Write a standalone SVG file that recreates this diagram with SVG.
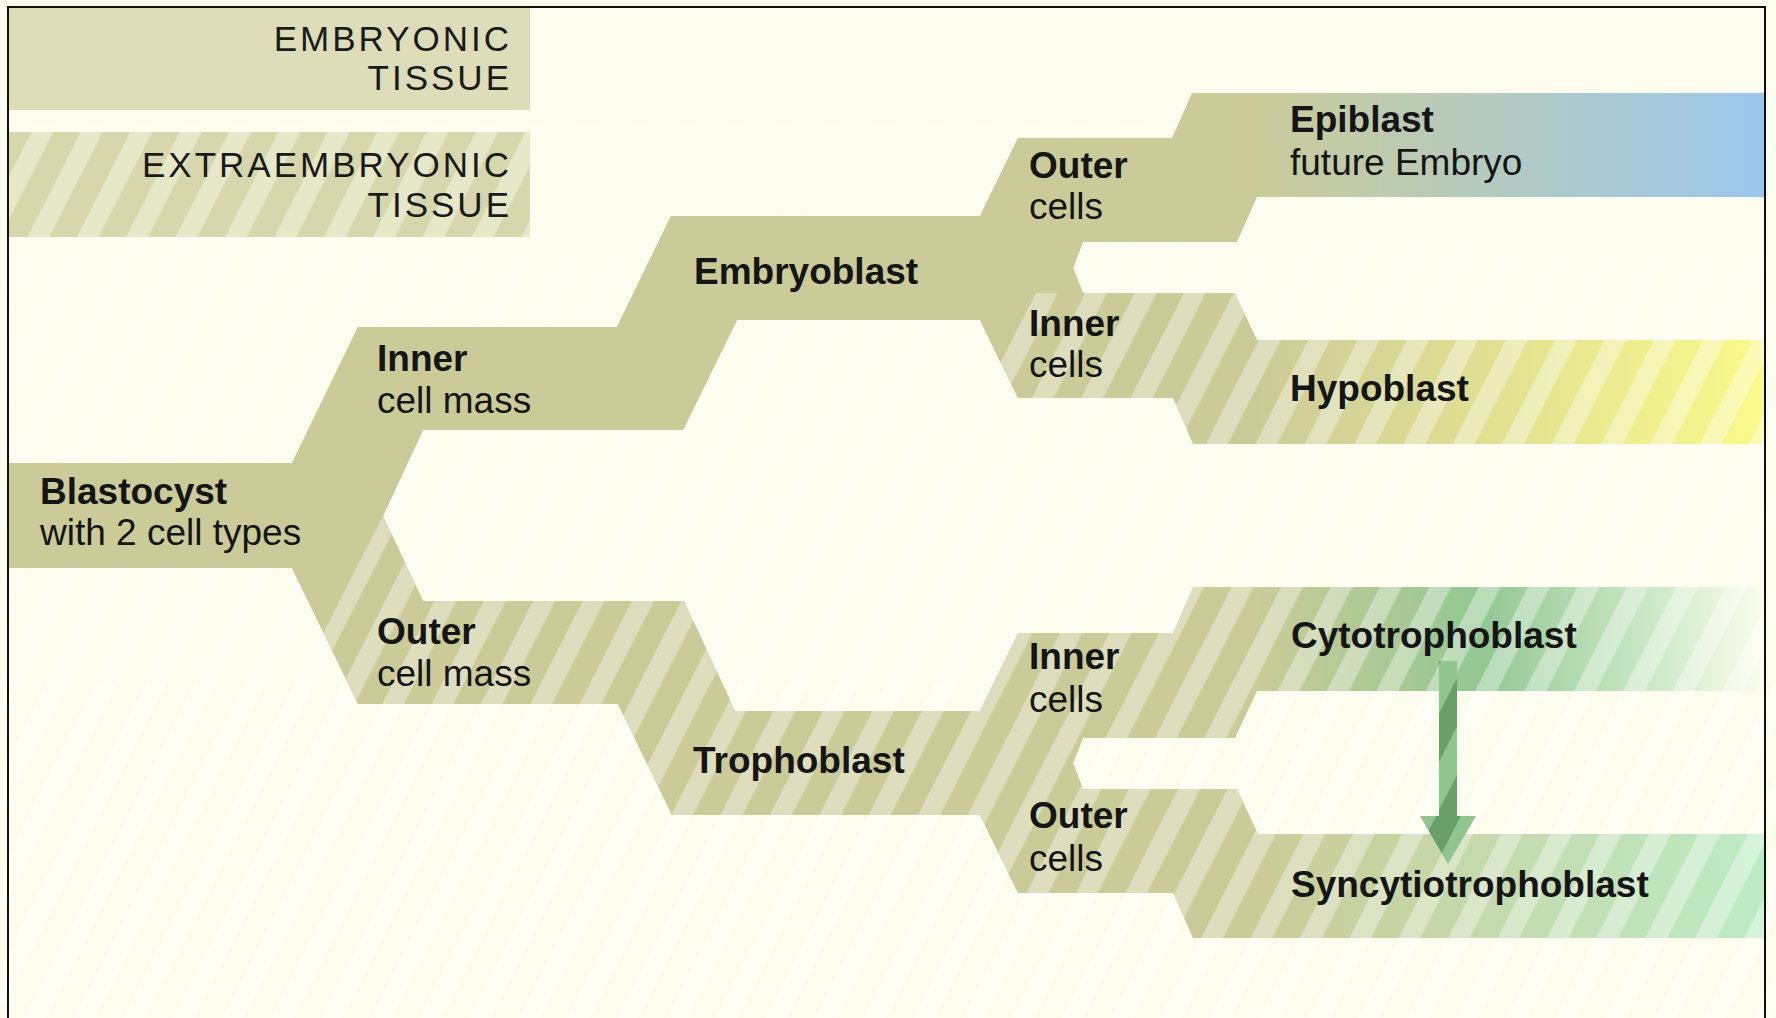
<svg xmlns="http://www.w3.org/2000/svg" width="1776" height="1018" viewBox="0 0 1776 1018">
<defs>
<style>
.t{font-family:"Liberation Sans",Arial,Helvetica,sans-serif;font-size:37px;fill:#151515}
.b{font-weight:bold}
.lg{font-family:"Liberation Sans",Arial,Helvetica,sans-serif;font-size:35px;letter-spacing:3px;fill:#1a1a1a;text-anchor:end}
.solid{fill:#CBCB99}
.striped{fill:url(#stripes)}
.wst{fill:url(#wstripes)}
</style>
<pattern id="stripes" patternUnits="userSpaceOnUse" width="44" height="44" patternTransform="rotate(27)">
<rect width="44" height="44" fill="#CBCB99"/>
<rect width="19.5" height="44" fill="#DEDEBE"/>
</pattern>
<pattern id="wstripes" patternUnits="userSpaceOnUse" width="44" height="44" patternTransform="rotate(27)">
<rect width="19.5" height="44" fill="#ffffff" fill-opacity="0.36"/>
</pattern>
<pattern id="bgstripes" patternUnits="userSpaceOnUse" width="44" height="44" patternTransform="rotate(27)">
<rect width="19.5" height="44" fill="#ffffff" fill-opacity="0.5"/>
</pattern>
<pattern id="legstripes" patternUnits="userSpaceOnUse" width="44" height="44" patternTransform="rotate(27)">
<rect width="44" height="44" fill="#D7D7AE"/>
<rect width="19.5" height="44" fill="#E7E7CA"/>
</pattern>
<pattern id="gstripes" patternUnits="userSpaceOnUse" width="44" height="44" patternTransform="rotate(27)">
<rect width="44" height="44" fill="#6A9F6C"/>
<rect width="22" height="44" fill="#90C490"/>
</pattern>
<linearGradient id="bgFade" gradientUnits="userSpaceOnUse" x1="0" y1="0" x2="0" y2="1018">
<stop offset="0" stop-color="#fff" stop-opacity="0"/>
<stop offset="0.25" stop-color="#fff" stop-opacity="0.25"/>
<stop offset="0.7" stop-color="#fff" stop-opacity="0.7"/>
<stop offset="1" stop-color="#fff" stop-opacity="0.8"/>
</linearGradient>
<mask id="bgMask" maskUnits="userSpaceOnUse" x="0" y="0" width="1776" height="1018">
<rect width="1776" height="1018" fill="url(#bgFade)"/>
</mask>
<linearGradient id="gEpi" gradientUnits="userSpaceOnUse" x1="1250" y1="0" x2="1766" y2="0">
<stop offset="0" stop-color="#CBCB99"/>
<stop offset="1" stop-color="#9BC7EC"/>
</linearGradient>
<linearGradient id="gHypo" gradientUnits="userSpaceOnUse" x1="1257" y1="0" x2="1766" y2="0">
<stop offset="0" stop-color="#CBCB99"/>
<stop offset="1" stop-color="#FAFA8C"/>
</linearGradient>
<linearGradient id="gCyto" gradientUnits="userSpaceOnUse" x1="1250" y1="0" x2="1766" y2="0">
<stop offset="0" stop-color="#CBCB99"/>
<stop offset="0.45" stop-color="#94C794"/>
<stop offset="0.78" stop-color="#CDE8C8"/>
<stop offset="1" stop-color="#FDFDEF"/>
</linearGradient>
<linearGradient id="gSyn" gradientUnits="userSpaceOnUse" x1="1260" y1="0" x2="1766" y2="0">
<stop offset="0" stop-color="#CBCB99"/>
<stop offset="1" stop-color="#BDEBC6"/>
</linearGradient>
</defs>

<g id="background">
<rect width="1776" height="1018" fill="#FDFDEF"/>
<rect width="1776" height="1018" fill="url(#bgstripes)" mask="url(#bgMask)"/>
</g>

<g id="legend">
<g id="legend-embryonic">
<rect x="9" y="7" width="521" height="103" fill="#DDDDBA"/>
<text class="lg" x="512" y="51">EMBRYONIC</text>
<text class="lg" x="512" y="90">TISSUE</text>
</g>
<g id="legend-extraembryonic">
<rect x="9" y="132" width="521" height="105" fill="url(#legstripes)"/>
<text class="lg" x="512" y="177">EXTRAEMBRYONIC</text>
<text class="lg" x="512" y="217">TISSUE</text>
</g>
</g>

<g id="band-silhouette">
<path class="solid" d="M9,463 L292,463 L358,327 L617,327 L671,216 L980,216 L1018,138 L1172,138 L1237,242 L1083,242 L1073,268 L1083,293 L1235,293 L1173,398 L1018,398 L980,320 L737,320 L683,430 L423,430 L383,516 L423,601 L684,601 L735,711 L980,711 L1018,633 L1173,633 L1235,738 L1083,738 L1073,763 L1083,789 L1237,789 L1173,893 L1018,893 L980,815 L672,815 L618,704 L358,704 L292,568 L9,568 Z"/>
</g>

<g id="node-blastocyst">
<polygon class="solid" points="9,463 292,463 383,516 323.5,632.8 292,568 9,568"/>
<text class="t b" x="40" y="504">Blastocyst</text>
<text class="t" x="40" y="545">with 2 cell types</text>
</g>

<g id="node-inner-cell-mass">
<polygon class="solid" points="292,463 358,327 617,327 683,430 423,430 383,516"/>
<text class="t b" x="377" y="371">Inner</text>
<text class="t" x="377" y="413">cell mass</text>
</g>

<g id="node-outer-cell-mass">
<polygon class="striped" points="383,516 423,601 684,601 618,704 358,704 323.5,632.8"/>
<text class="t b" x="377" y="644">Outer</text>
<text class="t" x="377" y="686">cell mass</text>
</g>

<g id="node-embryoblast">
<polygon class="solid" points="617,327 671,216 980,216 1073,268 1083,293 1033,293 999.2,359.4 980,320 737,320 683,430"/>
<text class="t b" x="694" y="284">Embryoblast</text>
</g>

<g id="node-trophoblast">
<polygon class="striped" points="684,601 735,711 980,711 1073,763 980,815 672,815 618,704"/>
<text class="t b" x="693" y="773">Trophoblast</text>
</g>

<g id="node-embryoblast-outer-cells">
<polygon class="solid" points="980,216 1018,138 1172,138 1237,242 1083,242 1073,268"/>
<text class="t b" x="1029" y="178">Outer</text>
<text class="t" x="1029" y="219">cells</text>
</g>

<g id="node-embryoblast-inner-cells">
<polygon class="striped" points="1033,293 1235,293 1173,398 1018,398 999.2,359.4"/>
<text class="t b" x="1029" y="336">Inner</text>
<text class="t" x="1029" y="377">cells</text>
</g>

<g id="node-trophoblast-inner-cells">
<polygon class="striped" points="980,711 1018,633 1173,633 1235,738 1083,738 1073,763"/>
<text class="t b" x="1029" y="669">Inner</text>
<text class="t" x="1029" y="712">cells</text>
</g>

<g id="node-trophoblast-outer-cells">
<polygon class="striped" points="1073,763 1083,789 1237,789 1173,893 1018,893 980,815"/>
<text class="t b" x="1029" y="828">Outer</text>
<text class="t" x="1029" y="871">cells</text>
</g>

<g id="node-epiblast">
<polygon fill="url(#gEpi)" points="1169,138 1172,138 1192,93 1766,93 1766,197 1257,197 1237,242 1234,242"/>
<text class="t b" x="1290" y="132">Epiblast</text>
<text class="t" x="1290" y="175">future Embryo</text>
</g>

<g id="node-hypoblast">
<polygon fill="url(#gHypo)" points="1232,293 1235,293 1257,340 1766,340 1766,444 1193,444 1173,398 1170,398"/>
<polygon class="wst" points="1232,293 1235,293 1257,340 1766,340 1766,444 1193,444 1173,398 1170,398"/>
<text class="t b" x="1290" y="401">Hypoblast</text>
</g>

<g id="node-cytotrophoblast">
<polygon fill="url(#gCyto)" points="1170,633 1173,633 1193,587 1766,587 1766,691 1257,691 1235,738 1232,738"/>
<polygon class="wst" points="1170,633 1173,633 1193,587 1766,587 1766,691 1257,691 1235,738 1232,738"/>
<text class="t b" x="1291" y="648">Cytotrophoblast</text>
</g>

<g id="node-syncytiotrophoblast">
<polygon fill="url(#gSyn)" points="1234,789 1237,789 1258,834 1766,834 1766,938 1193,938 1173,893 1170,893"/>
<polygon class="wst" points="1234,789 1237,789 1258,834 1766,834 1766,938 1193,938 1173,893 1170,893"/>
<text class="t b" x="1291" y="897">Syncytiotrophoblast</text>
</g>

<g id="connectors">
<path id="arrow-cyto-to-syncytio" fill="url(#gstripes)" d="M1439,661 H1457 V816 H1476 L1448,864 L1420,816 H1439 Z"/>
</g>

<path id="frame" d="M8,1018 V7 H1765 V1018" fill="none" stroke="#111" stroke-width="2"/>
</svg>
